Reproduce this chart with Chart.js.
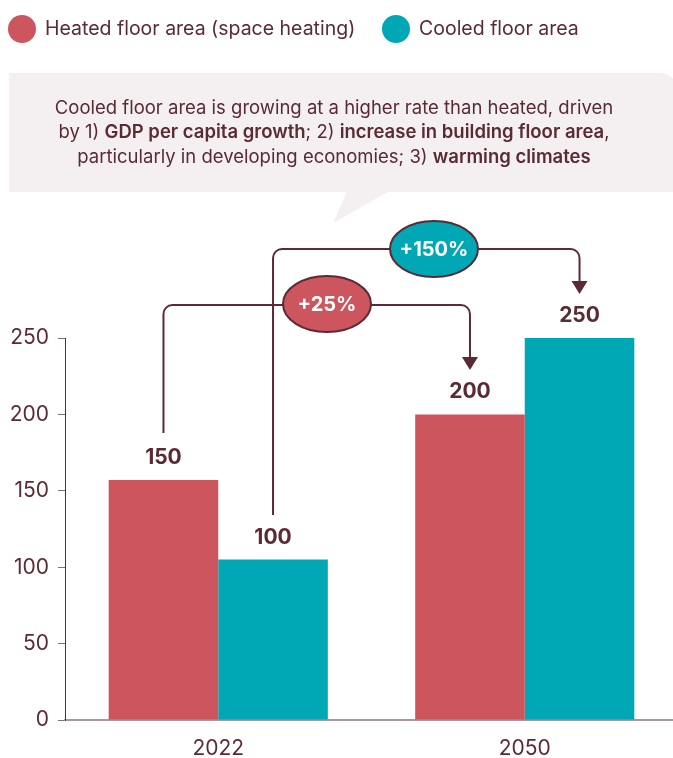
<!DOCTYPE html>
<html>
<head>
<meta charset="utf-8">
<script src="https://cdn.jsdelivr.net/npm/chart.js@4"></script>
<style>
  html, body { margin: 0; padding: 0; background: #fff; overflow: hidden; }
  #wrap { position: relative; width: 680px; height: 758px; }
</style>
</head>
<body>
<div id="wrap"><canvas id="floorChart"></canvas></div>
<script>
const years = ['2022', '2050'];
const heatedValues = [157, 200];
const cooledValues = [105, 250];
const heatedLabels = ['150', '200'];
const cooledLabels = ['100', '250'];
const growthLabels = ['+25%', '+150%'];
const seriesNames = ['Heated floor area (space heating)', 'Cooled floor area'];
const calloutLines = [
  [['Cooled floor area is growing at a higher rate than heated, driven', false]],
  [['by 1) ', false], ['GDP per capita growth', true], ['; 2) ', false], ['increase in building floor area', true], [',', false]],
  [['particularly in developing economies; 3) ', false], ['warming climates', true]]
];

const RED = '#cd555e';
const TEAL = '#00a8b5';
const INK = '#5a2a35';
const FONT = "Inter, 'Noto Sans', sans-serif";

function drawBracket(c, x1, yStart, x2, yTop, yTip) {
  const r = 9;
  c.beginPath();
  c.moveTo(x1, yStart);
  c.lineTo(x1, yTop + r);
  c.arcTo(x1, yTop, x1 + r, yTop, r);
  c.lineTo(x2 - r, yTop);
  c.arcTo(x2, yTop, x2, yTop + r, r);
  c.lineTo(x2, yTip - 10);
  c.stroke();
  c.beginPath();
  c.moveTo(x2 - 8, yTip - 13);
  c.lineTo(x2 + 8, yTip - 13);
  c.lineTo(x2, yTip);
  c.closePath();
  c.fill();
}

function drawBadge(c, cx, cy, fill, text) {
  c.beginPath();
  c.ellipse(cx, cy, 44, 28, 0, 0, Math.PI * 2);
  c.fillStyle = fill;
  c.fill();
  c.lineWidth = 2;
  c.strokeStyle = INK;
  c.stroke();
  c.fillStyle = '#fff';
  c.font = `700 20px ${FONT}`;
  c.textAlign = 'center';
  c.textBaseline = 'middle';
  c.fillText(text, cx, cy + 1);
}

const decor = {
  id: 'decor',
  beforeDraw(chart) {
    const c = chart.ctx;
    c.save();
    // legend
    const items = [[22, 45, RED, seriesNames[0]], [396, 419, TEAL, seriesNames[1]]];
    c.font = `400 19.5px ${FONT}`;
    c.textBaseline = 'middle';
    c.textAlign = 'left';
    items.forEach(([cx, tx, col, name]) => {
      c.fillStyle = col;
      c.beginPath();
      c.arc(cx, 29, 14, 0, Math.PI * 2);
      c.fill();
      c.fillStyle = INK;
      c.fillText(name, tx, 29);
    });
    // callout box
    c.fillStyle = '#f4f0f1';
    c.beginPath();
    c.moveTo(9, 73);
    c.lineTo(660, 73);
    c.arcTo(678, 73, 678, 91, 18);
    c.lineTo(678, 192);
    c.lineTo(388, 192);
    c.lineTo(333, 223);
    c.lineTo(347, 192);
    c.lineTo(9, 192);
    c.closePath();
    c.fill();
    // callout text
    const fontFor = b => `${b ? 600 : 400} 18.5px ${FONT}`;
    c.textBaseline = 'middle';
    calloutLines.forEach((segs, i) => {
      let w = 0;
      segs.forEach(([t, b]) => { c.font = fontFor(b); w += c.measureText(t).width; });
      let x = 334 - w / 2;
      const y = 108 + i * 24.5;
      segs.forEach(([t, b]) => {
        c.font = fontFor(b);
        c.fillStyle = INK;
        c.fillText(t, x, y);
        x += c.measureText(t).width;
      });
    });
    c.restore();
  },
  afterDatasetsDraw(chart) {
    const c = chart.ctx;
    const h = chart.getDatasetMeta(0).data;
    const k = chart.getDatasetMeta(1).data;
    c.save();
    // value labels
    c.font = `700 21px ${FONT}`;
    c.fillStyle = INK;
    c.textAlign = 'center';
    c.textBaseline = 'alphabetic';
    h.forEach((bar, i) => c.fillText(heatedLabels[i], bar.x, bar.y - 16));
    k.forEach((bar, i) => c.fillText(cooledLabels[i], bar.x, bar.y - 16));
    // growth brackets
    c.strokeStyle = INK;
    c.fillStyle = INK;
    c.lineWidth = 2;
    drawBracket(c, h[0].x, 433, h[1].x, 305, 370);
    drawBracket(c, k[0].x, 515, k[1].x, 249, 294);
    drawBadge(c, 327, 304, RED, growthLabels[0]);
    drawBadge(c, 434, 249, TEAL, growthLabels[1]);
    c.restore();
  }
};

new Chart(document.getElementById('floorChart'), {
  type: 'bar',
  data: {
    labels: years,
    datasets: [
      { label: seriesNames[0], data: heatedValues, backgroundColor: RED, categoryPercentage: 0.715, barPercentage: 1 },
      { label: seriesNames[1], data: cooledValues, backgroundColor: TEAL, categoryPercentage: 0.715, barPercentage: 1 }
    ]
  },
  options: {
    responsive: true,
    maintainAspectRatio: false,
    animation: false,
    layout: { padding: { top: 338, right: 2, left: 0, bottom: 0 } },
    plugins: { legend: { display: false }, tooltip: { enabled: false } },
    scales: {
      x: {
        grid: { display: false, drawTicks: false },
        border: { color: '#a8979b', width: 2 },
        ticks: { color: INK, font: { family: FONT, size: 21 }, padding: 16 },
        afterFit(s) { s.height = 38; }
      },
      y: {
        min: 0,
        max: 250,
        ticks: { stepSize: 50, color: INK, font: { family: FONT, size: 21 }, padding: 9 },
        grid: { drawOnChartArea: false, tickLength: 7, color: '#8a6d74' },
        border: { color: INK, width: 1 },
        afterFit(s) { s.width = 65; }
      }
    }
  },
  plugins: [decor]
});
</script>
</body>
</html>
